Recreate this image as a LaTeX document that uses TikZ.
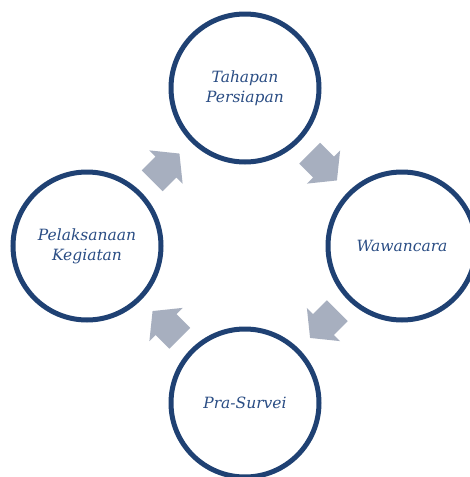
\documentclass[tikz,border=0pt]{standalone}
\usepackage{fontspec}
\setmainfont{DejaVu Serif}
\usetikzlibrary{calc}
\definecolor{ringblue}{RGB}{31,65,115}
\definecolor{textblue}{RGB}{42,77,132}
\definecolor{arrowgrey}{RGB}{167,175,191}
\tikzset{
  stage/.style={circle, draw=ringblue, line width=5pt, minimum size=148pt,
    inner sep=0pt, align=center, text=textblue,
    font=\fontsize{15.5}{20}\selectfont\itshape},
  blockarrow/.pic={\fill[arrowgrey] (-19.5,-14.75) -- (0,-14.75) -- (0,-23.5) -- (19,0)
     -- (0,23.5) -- (0,14.75) -- (-19.5,14.75) -- cycle;}
}
\begin{document}
\begin{tikzpicture}[x=1pt,y=-1pt]
\useasboundingbox (0,0) rectangle (470,477);
\fill[white] (0,0) rectangle (470,477);
\node[stage] (T) at (245,88) {Tahapan\\Persiapan};
\node[stage] (R) at (402,246) {Wawancara};
\node[stage] (B) at (245,403) {Pra-Survei};
\node[stage] (L) at (87,246) {Pelaksanaan\\Kegiatan};
\path ($(L)!0.5!(T)$) pic[rotate=45] {blockarrow};
\path ($(T)!0.5!(R)$) pic[rotate=-45] {blockarrow};
\path ($(R)!0.5!(B)$) pic[rotate=-135] {blockarrow};
\path ($(B)!0.5!(L)$) pic[rotate=135] {blockarrow};
\end{tikzpicture}
\end{document}
